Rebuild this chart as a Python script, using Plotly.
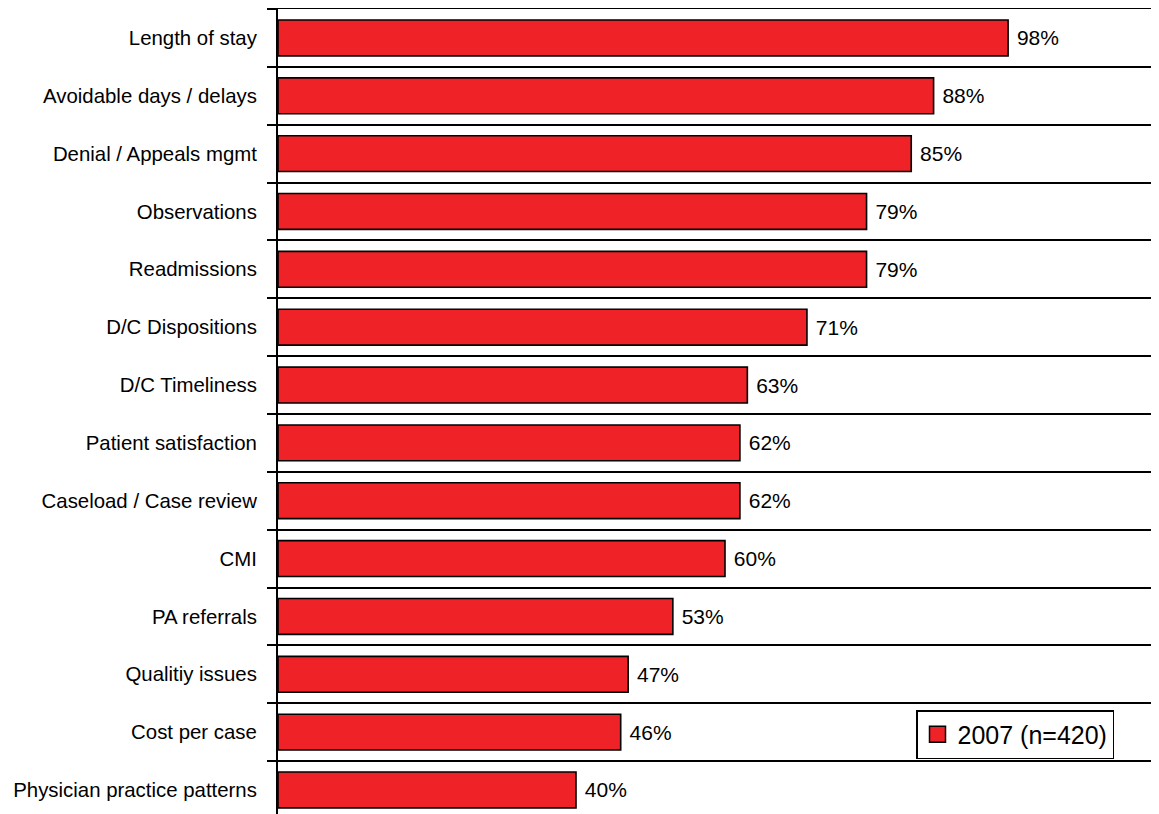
import plotly.graph_objects as go

categories = [
    "Length of stay", "Avoidable days / delays", "Denial / Appeals mgmt",
    "Observations", "Readmissions", "D/C Dispositions", "D/C Timeliness",
    "Patient satisfaction", "Caseload / Case review", "CMI", "PA referrals",
    "Qualitiy issues", "Cost per case", "Physician practice patterns",
]
values = [98, 88, 85, 79, 79, 71, 63, 62, 62, 60, 53, 47, 46, 40]
series_name = "2007 (n=420)"

RED = "#EE2227"
FONT = "Liberation Sans, Arial, sans-serif"

positions = list(range(len(categories)))

fig = go.Figure()
fig.add_trace(go.Bar(
    y=positions, x=values, orientation="h",
    marker=dict(color=RED, line=dict(color="black", width=1.6)),
    width=0.62,
    text=[f" {v}%" for v in values],
    textposition="outside",
    textfont=dict(family=FONT, size=21, color="black"),
    constraintext="none",
    cliponaxis=False,
    showlegend=False,
))
# legend entry
fig.add_trace(go.Scatter(
    x=[None], y=[None], mode="markers", name=series_name,
    marker=dict(symbol="square", size=20, color=RED, line=dict(color="black", width=1.5)),
))

n = len(categories)
# page has an 8px body margin: figure starts at (8, 8)
plot_h = 806
fig.update_layout(
    width=1151, height=807,
    margin=dict(l=270, r=0, t=1, b=0),
    paper_bgcolor="white", plot_bgcolor="white",
    font=dict(family=FONT, size=21, color="black"),
    xaxis=dict(
        range=[0, 881 / 7.45], showgrid=False, zeroline=False,
        showticklabels=False, ticks="", side="top", automargin=False,
        showline=True, linecolor="black", linewidth=2.5,
    ),
    yaxis=dict(
        range=[-0.5 + plot_h / 57.85, -0.5], automargin=False,
        tickmode="array", tickvals=positions, ticktext=categories,
        ticks="", showgrid=False, zeroline=False,
        showline=True, linecolor="black", linewidth=2,
        ticklabelstandoff=15,
        tickfont=dict(family=FONT, size=20.4, color="black"),
        minor=dict(
            tickmode="array", tickvals=[i - 0.5 for i in range(n + 1)],
            ticks="outside", ticklen=9, tickcolor="black", tickwidth=2,
            showgrid=True, gridcolor="black", gridwidth=1.8,
        ),
    ),
    legend=dict(
        x=(916 - 278) / 881, y=(814 - 709) / plot_h,
        xanchor="left", yanchor="top",
        bordercolor="black", borderwidth=1.5, bgcolor="white",
        font=dict(family=FONT, size=25, color="black"),
    ),
)

fig.write_html("out.html")
